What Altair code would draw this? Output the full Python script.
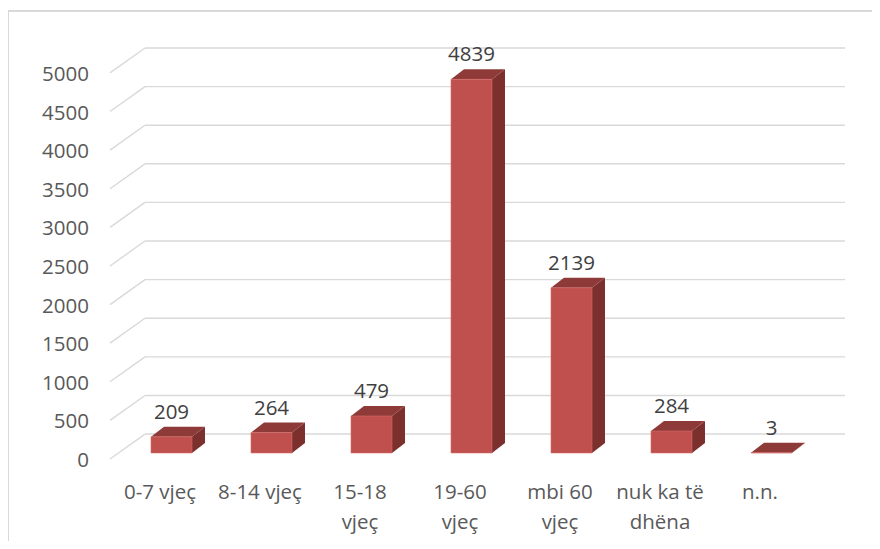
import altair as alt
import pandas as pd

# ---- data ----
categories = ["0-7 vjeç", "8-14 vjeç", "15-18\nvjeç", "19-60\nvjeç",
              "mbi 60\nvjeç", "nuk ka të\ndhëna", "n.n."]
values = [209, 264, 479, 4839, 2139, 284, 3]
y_ticks = [0, 500, 1000, 1500, 2000, 2500, 3000, 3500, 4000, 4500, 5000]

# ---- 3D styling constants (category units / value units) ----
WALL_DX, WALL_DY = 0.35, 323     # depth of floor / back wall
BAR_LIFT = 78                    # bar front plane above floor front
BAR_L, BAR_R = 0.41, 0.82        # bar front face within category band
BAR_DX, BAR_DY = 0.13, 129.5     # bar depth
X_MAX, Y_MAX = 7.35, 5323

FRONT = "#C0504D"
TOP = "#8E3A38"
SIDE = "#7B302E"
GRID = "#D9D9D9"
FONT = "Open Sans"
FS = 20.5

xs = alt.Scale(domain=[0, X_MAX], range=[102, 837], nice=False, zero=False)
ys = alt.Scale(domain=[0, Y_MAX], range=[448, 37], nice=False, zero=False)

ticks = pd.DataFrame({"v": y_ticks})
bars = pd.DataFrame({"i": list(range(len(values))), "value": values, "cat": categories})

# gridlines: diagonal floor part + back-wall part
diag = alt.Chart(ticks).transform_calculate(
    x0="0", x1=str(WALL_DX), y1=f"datum.v + {WALL_DY}"
).mark_rule(color=GRID, strokeWidth=1.4).encode(
    x=alt.X("x0:Q", scale=xs, axis=None),
    x2="x1:Q",
    y=alt.Y("v:Q", scale=ys, axis=None),
    y2="y1:Q",
)
back = alt.Chart(ticks).transform_calculate(
    x0=str(WALL_DX), x1=str(X_MAX), y1=f"datum.v + {WALL_DY}"
).mark_rule(color=GRID, strokeWidth=1.4).encode(
    x=alt.X("x0:Q", scale=xs, axis=None),
    x2="x1:Q",
    y=alt.Y("y1:Q", scale=ys, axis=None),
)

# y tick labels at the front plane
ylab = alt.Chart(ticks).transform_calculate(x0="0").mark_text(
    align="right", baseline="middle", dx=-21, dy=2,
    font=FONT, fontSize=FS, color="#595959"
).encode(
    x=alt.X("x0:Q", scale=xs, axis=None),
    y=alt.Y("v:Q", scale=ys, axis=None),
    text=alt.Text("v:Q", format="d"),
)

# side and top faces (parallelograms)
side_rows, top_rows = [], []
for i, v in enumerate(values):
    side_rows.append({"i": i, "x": i + BAR_R, "y": BAR_LIFT, "y2": BAR_LIFT + v})
    side_rows.append({"i": i, "x": i + BAR_R + BAR_DX, "y": BAR_LIFT + BAR_DY,
                      "y2": BAR_LIFT + v + BAR_DY})
    top_rows.append({"i": i, "y": BAR_LIFT + v, "x": i + BAR_L, "x2": i + BAR_R})
    top_rows.append({"i": i, "y": BAR_LIFT + v + BAR_DY, "x": i + BAR_L + BAR_DX,
                     "x2": i + BAR_R + BAR_DX})
side_df = pd.DataFrame(side_rows)
top_df = pd.DataFrame(top_rows)

side = alt.Chart(side_df).mark_area(color=SIDE, orient="vertical").encode(
    x=alt.X("x:Q", scale=xs, axis=None),
    y=alt.Y("y:Q", scale=ys, axis=None),
    y2="y2:Q",
    detail="i:N",
)
top = alt.Chart(top_df).mark_area(color=TOP, orient="horizontal").encode(
    y=alt.Y("y:Q", scale=ys, axis=None),
    x=alt.X("x:Q", scale=xs, axis=None),
    x2="x2:Q",
    detail="i:N",
)
front = alt.Chart(bars).transform_calculate(
    xa=f"datum.i + {BAR_L}", xb=f"datum.i + {BAR_R}",
    ya=str(BAR_LIFT), yb=f"datum.value + {BAR_LIFT}"
).mark_rect(color=FRONT, stroke="#D46A66", strokeWidth=0.6).encode(
    x=alt.X("xa:Q", scale=xs, axis=None),
    x2="xb:Q",
    y=alt.Y("ya:Q", scale=ys, axis=None),
    y2="yb:Q",
)

# data labels
dlab = alt.Chart(bars).transform_calculate(
    xc=f"datum.i + {(BAR_L + BAR_R) / 2}",
    yc=f"datum.value + {BAR_LIFT + BAR_DY}"
).mark_text(
    align="center", baseline="alphabetic", dy=-8,
    font=FONT, fontSize=FS, color="#404040"
).encode(
    x=alt.X("xc:Q", scale=xs, axis=None),
    y=alt.Y("yc:Q", scale=ys, axis=None),
    text="value:Q",
)

# category labels
xlab = alt.Chart(bars).transform_calculate(
    xc="datum.i + 0.5", y0="0"
).mark_text(
    align="center", baseline="alphabetic", dy=40, lineBreak="\n", lineHeight=30,
    font=FONT, fontSize=FS, color="#595959"
).encode(
    x=alt.X("xc:Q", scale=xs, axis=None),
    y=alt.Y("y0:Q", scale=ys, axis=None),
    text="cat:N",
)

# outer chart border (top and left edges visible in the reference)
border_top = alt.Chart(ticks).mark_rule(color=GRID, strokeWidth=1.5).encode(
    x=alt.value(0), x2=alt.value(864), y=alt.value(0)
)
border_left = alt.Chart(ticks).mark_rule(color=GRID, strokeWidth=1.5).encode(
    x=alt.value(0), y=alt.value(0), y2=alt.value(530)
)

chart = alt.layer(
    border_top, border_left, diag, back, ylab, side, top, front, dlab, xlab
).properties(
    width=864, height=530,
    padding={"left": 0, "top": 3, "right": 0, "bottom": 0},
    autosize="none",
).configure_view(strokeWidth=0)

chart.save("out.html", embed_options={"renderer": "svg", "actions": False})
